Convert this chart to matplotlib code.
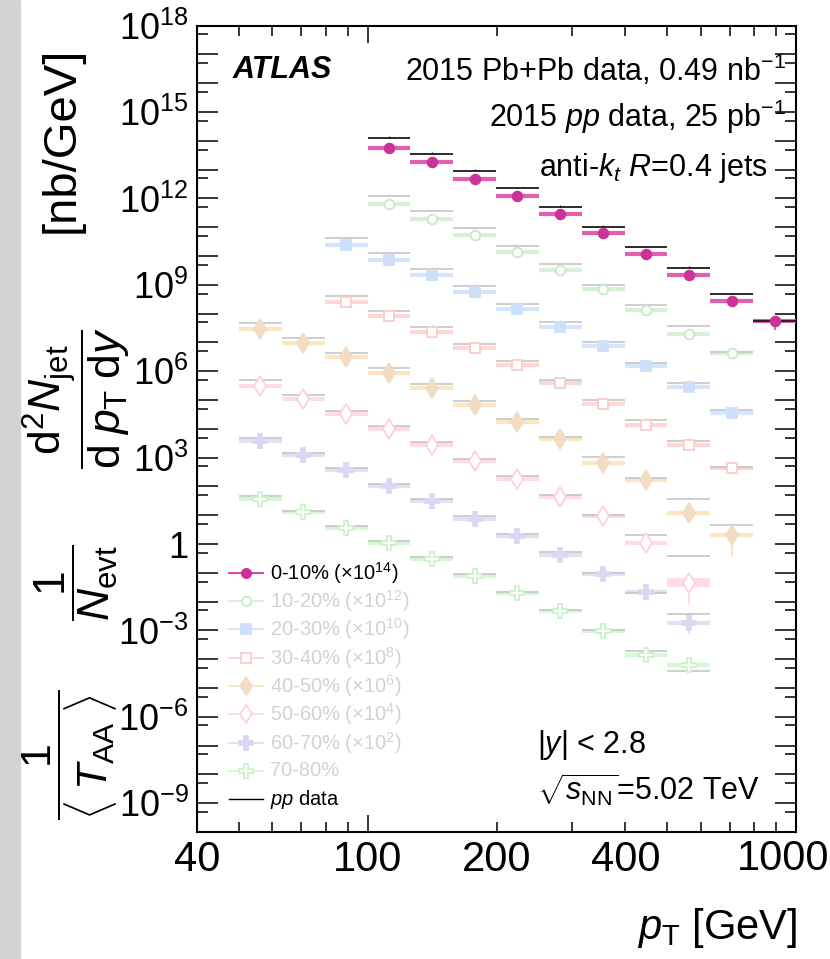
import numpy as np
import matplotlib
matplotlib.use("Agg")
import matplotlib.pyplot as plt
from matplotlib.ticker import FixedLocator, FuncFormatter, NullFormatter
from matplotlib.patches import Rectangle

plt.rcParams['font.family'] = ['Liberation Sans', 'DejaVu Sans']
plt.rcParams['mathtext.fontset'] = 'custom'
plt.rcParams['mathtext.rm'] = 'Liberation Sans'
plt.rcParams['mathtext.it'] = 'Liberation Sans:italic'
plt.rcParams['mathtext.bf'] = 'Liberation Sans:bold'

# pT bin edges [GeV]
bin_edges = [50, 63.1, 79.4, 100, 125.9, 158.5, 199.5, 251.2, 316.2, 398.1, 501.2, 631.0, 794.3, 1000]

# pp cross section, log10 [nb/GeV], one per bin
pp_log = [1.68, 1.16, 0.63, 0.10, -0.45, -1.04, -1.65, -2.29, -2.99, -3.70, -4.42, -5.33, -6.26]

cent_labels = ['0-10%', '10-20%', '20-30%', '30-40%', '40-50%', '50-60%', '60-70%', '70-80%']
scale_exp = [14, 12, 10, 8, 6, 4, 2, 0]
first_bin = [3, 3, 2, 2, 0, 0, 0, 0]

# Pb+Pb yields / <TAA>, log10 [nb/GeV], before scaling
yield_0_10 = [-0.23, -0.75, -1.32, -1.90, -2.54, -3.21, -3.92, -4.66, -5.55, -6.26]
yield_10_20 = [-0.19, -0.71, -1.27, -1.85, -2.47, -3.14, -3.87, -4.69, -5.37]
yield_20_30 = [0.40, -0.12, -0.67, -1.24, -1.83, -2.47, -3.14, -3.83, -4.55, -5.45]
yield_30_40 = [0.42, -0.09, -0.62, -1.20, -1.80, -2.41, -3.13, -3.86, -4.56, -5.36]
yield_40_50 = [1.47, 0.98, 0.48, -0.05, -0.57, -1.17, -1.75, -2.35, -3.19, -3.77, -4.93, -5.67]
yield_50_60 = [1.49, 1.03, 0.52, -0.01, -0.55, -1.13, -1.74, -2.35, -3.02, -3.95, -5.34]
yield_60_70 = [1.57, 1.10, 0.57, 0.02, -0.52, -1.13, -1.73, -2.39, -3.05, -3.66, -4.73]
yield_70_80 = [1.58, 1.10, 0.54, 0.02, -0.51, -1.11, -1.71, -2.31, -3.03, -3.87, -4.19]
yields = [yield_0_10, yield_10_20, yield_20_30, yield_30_40,
          yield_40_50, yield_50_60, yield_60_70, yield_70_80]

# visible downward stat errors (decades): {series: {point index: size}}
err_down = {0: {9: 0.30}, 4: {11: 0.74}, 5: {10: 0.75}, 6: {10: 0.40}}

# style per centrality (faded colours for all but 0-10%)
mk = ['o', 'o', 's', 's', 'd', 'd', 'P', 'P']
filled = [True, False, True, False, True, False, True, False]
mk_size = [7, 7, 7.5, 7.5, 10, 10, 10.5, 10.5]
mk_col = ['#cc3399', '#c4ebc4', '#cddffa', '#fdcccc', '#f2dcc4', '#ffcfdf', '#d8d8f2', '#c8f5c8']
bar_col = ['#e35fb0', '#d6f2d6', '#d4e6fb', '#ffd6d6', '#fbe6c2', '#ffdbe7', '#e1e1f5', '#d6f7d6']
pp_col = ['#1a1a1a'] + ['#c9c9c9'] * 7
leg_txt_col = ['black'] + ['#d2d2d2'] * 7

W, H = 830, 959
fig = plt.figure(figsize=(W / 100, H / 100), dpi=100)
fig.patches.append(Rectangle((0, 0), 20 / W, 1, transform=fig.transFigure,
                             color='#d3d3d3', zorder=-5))

ax = fig.add_axes([197 / W, 1 - 832 / H, 599 / W, 806.3 / H])
ax.set_xscale('log')
ax.set_yscale('log')
ax.set_xlim(40, 1000)
ax.set_ylim(1e-10, 1e18)

edges = np.array(bin_edges)
centers = np.sqrt(edges[:-1] * edges[1:])

order = [7, 6, 5, 4, 3, 2, 1, 0]
for i in order:
    b0 = first_bin[i]
    n = len(yields[i])
    lo = edges[b0:b0 + n]
    hi = edges[b0 + 1:b0 + n + 1]
    xc = centers[b0:b0 + n]
    sc = 10.0 ** scale_exp[i]
    y = 10.0 ** np.array(yields[i]) * sc
    pp = 10.0 ** np.array(pp_log[b0:b0 + n]) * sc
    z = 3 if i > 0 else 10
    ax.hlines(y, lo, hi, color=bar_col[i], lw=3.0, zorder=z)
    ax.hlines(pp, lo, hi, color=pp_col[i], lw=1.3, zorder=z + 1)
    ax.vlines(xc, pp, pp * 10 ** 0.06, color=pp_col[i], lw=0.8, zorder=z + 1)
    for k, d in err_down.get(i, {}).items():
        ax.vlines(xc[k], y[k] * 10 ** (-d), y[k], color=bar_col[i], lw=1.5, zorder=z)
    if i == 5:
        ax.fill_between([lo[-1], hi[-1]], y[-1] * 10 ** -0.16, y[-1] * 10 ** 0.16,
                        color=bar_col[i], lw=0, zorder=z)
    ax.plot(xc, y, ls='none', marker=mk[i], ms=mk_size[i],
            mfc=mk_col[i] if filled[i] else 'white', mec=mk_col[i], mew=1.3,
            zorder=z + 2)

# axes ticks
def ylab(v, pos):
    e = int(round(np.log10(v)))
    if e % 3:
        return ''
    if e == 0:
        return '1'
    return r'$10^{%d}$' % e

ax.yaxis.set_major_locator(FixedLocator(10.0 ** np.arange(-10, 19)))
ax.yaxis.set_major_formatter(FuncFormatter(ylab))
ax.yaxis.set_minor_locator(FixedLocator(5 * 10.0 ** np.arange(-11, 18)))
ax.yaxis.set_minor_formatter(NullFormatter())

def xlab(v, pos):
    if int(round(v)) in (40, 100, 200, 400):
        return '%d' % int(round(v))
    return ''

ax.xaxis.set_major_locator(FixedLocator([100, 1000]))
ax.xaxis.set_minor_locator(FixedLocator([40, 50, 60, 70, 80, 90, 200, 300, 400, 500, 600, 700, 800, 900]))
ax.xaxis.set_major_formatter(FuncFormatter(xlab))
ax.xaxis.set_minor_formatter(FuncFormatter(xlab))

ax.tick_params(which='both', direction='in', top=True, right=True, width=1.1,
               colors='black')
ax.tick_params(axis='y', which='major', length=15, pad=6, labelsize=26)
ax.tick_params(axis='y', which='minor', length=8)
ax.tick_params(axis='x', which='both', labelsize=30, pad=6)
ax.tick_params(axis='x', which='major', length=12)
ax.tick_params(axis='x', which='minor', length=7)
for s in ax.spines.values():
    s.set_linewidth(1.5)

# legend drawn by hand
leg_rows = [572.7, 601, 629.3, 657.7, 686, 714.3, 742.7, 771]
to_ax_y = lambda py: (832 - py) / 806.3
to_ax_x = lambda px: (px - 197) / 599
for i in range(8):
    yy = to_ax_y(leg_rows[i])
    ax.plot([to_ax_x(229), to_ax_x(263)], [yy, yy], color=bar_col[i] if i else '#d9469f',
            lw=1.4, transform=ax.transAxes, clip_on=False, zorder=20)
    ax.plot([to_ax_x(246)], [yy], ls='none', marker=mk[i], ms=mk_size[i] * 0.95,
            mfc=mk_col[i] if filled[i] else 'white', mec=mk_col[i], mew=1.3,
            transform=ax.transAxes, clip_on=False, zorder=21)
    lab = cent_labels[i]
    if scale_exp[i]:
        lab += r' ($\times$10$^{%d}$)' % scale_exp[i]
    ax.text(to_ax_x(270), yy, lab, fontsize=14.5, color=leg_txt_col[i],
            va='center', ha='left', transform=ax.transAxes)
yy = to_ax_y(799.3)
ax.plot([to_ax_x(229), to_ax_x(263)], [yy, yy], color='black', lw=1.0,
        transform=ax.transAxes)
ax.text(to_ax_x(270), yy, r'$pp$ data', fontsize=14.5, va='center', ha='left',
        transform=ax.transAxes)

# labels
def fxy(px, py):
    return px / W, 1 - py / H

# last x label is pulled inside the canvas, as in the original
fig.text(*fxy(829, 859), '1000', fontsize=30, ha='right', va='center')

fig.text(*fxy(233, 70), 'ATLAS', fontsize=22, fontweight='bold', fontstyle='italic',
         ha='left', va='center')
fig.text(*fxy(786, 70), r'2015 Pb+Pb data, 0.49 nb$^{\mathregular{-1}}$', fontsize=22,
         ha='right', va='center')
fig.text(*fxy(786, 117), r'2015 $pp$ data, 25 pb$^{\mathregular{-1}}$', fontsize=22,
         ha='right', va='center')
fig.text(*fxy(768, 168), r'anti-$k_{t}$ $R$=0.4 jets', fontsize=22,
         ha='right', va='center')
fig.text(*fxy(537, 745), r'|$y$| < 2.8', fontsize=22, ha='left', va='center')
fig.text(*fxy(537, 790), r'$\sqrt{s_{\mathregular{NN}}}$=5.02 TeV', fontsize=22,
         ha='left', va='center')

fig.text(*fxy(797, 928), r'$p_{\mathregular{T}}$ [GeV]', fontsize=30, ha='right', va='center')

# y-axis title, built from pieces laid out along the axis like the original
ylab_size = 32
fig.text(*fxy(70, 755), r'$\dfrac{1}{\langle\;T_{\mathregular{AA}}\;\rangle}$',
         fontsize=31, rotation=90, ha='center', va='center')
fig.text(*fxy(76, 583), r'$\dfrac{1}{N_{\mathregular{evt}}}$',
         fontsize=ylab_size, rotation=90, ha='center', va='center')
fig.text(*fxy(76, 398),
         r'$\dfrac{\mathregular{d}^2N_{\mathregular{jet}}}{\mathregular{d}\;p_{\mathregular{T}}\;\mathregular{d}y}$',
         fontsize=ylab_size, rotation=90, ha='center', va='center')
fig.text(*fxy(62, 140), '[nb/GeV]', fontsize=34, rotation=90,
         ha='center', va='center')

fig.savefig('out.png', dpi=100)
